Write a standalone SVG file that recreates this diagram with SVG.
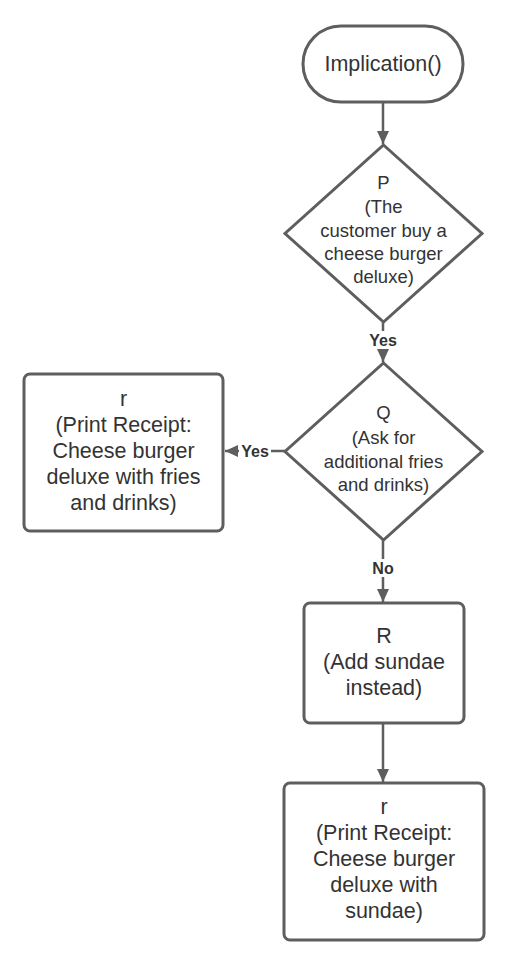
<svg xmlns="http://www.w3.org/2000/svg" width="528" height="968" viewBox="0 0 528 968">
<defs>
<marker id="ah" markerUnits="userSpaceOnUse" markerWidth="14" markerHeight="12" refX="13" refY="6" orient="auto">
<path d="M0,0 L13,6 L0,12 Z" fill="#5e5e5e"/>
</marker>
<style>
.shape{fill:#fff;stroke:#5e5e5e;stroke-width:3}
.edge{fill:none;stroke:#5e5e5e;stroke-width:2.5}
.t{font-family:"Liberation Sans",Arial,sans-serif;fill:#333;text-anchor:middle}
.big{font-size:21.5px}
.mid{font-size:18.5px}
.lbl{font-family:"Liberation Sans",Arial,sans-serif;font-size:16px;font-weight:bold;fill:#333;text-anchor:middle}
</style>
</defs>
<rect width="528" height="968" fill="#fff"/>
<g id="connectors">
<line class="edge" x1="383" y1="103" x2="383" y2="144" marker-end="url(#ah)"/>
<line class="edge" x1="383" y1="322" x2="383" y2="362" marker-end="url(#ah)"/>
<line class="edge" x1="285" y1="451" x2="225" y2="451" marker-end="url(#ah)"/>
<line class="edge" x1="383" y1="540" x2="383" y2="602" marker-end="url(#ah)"/>
<line class="edge" x1="383" y1="723" x2="383" y2="782" marker-end="url(#ah)"/>
<rect x="367" y="331" width="32" height="18" fill="#fff"/>
<text class="lbl" x="383" y="346">Yes</text>
<rect x="239" y="443" width="32" height="17" fill="#fff"/>
<text class="lbl" x="255" y="457">Yes</text>
<rect x="370" y="559" width="26" height="18" fill="#fff"/>
<text class="lbl" x="383" y="574">No</text>
</g>
<g id="start">
<rect class="shape" x="303" y="26" width="160" height="76" rx="38" ry="38"/>
<text class="t big" x="383" y="71">Implication()</text>
</g>
<g id="P">
<polygon class="shape" points="383.5,145 482,233.5 383.5,322 285,233.5"/>
<text class="t mid" x="383.5" y="189">P</text>
<text class="t mid" x="383.5" y="213">(The</text>
<text class="t mid" x="383.5" y="237">customer buy a</text>
<text class="t mid" x="383.5" y="260">cheese burger</text>
<text class="t mid" x="383.5" y="283">deluxe)</text>
</g>
<g id="Q">
<polygon class="shape" points="383.5,363 482,451.5 383.5,540 285,451.5"/>
<text class="t mid" x="383.5" y="418.5">Q</text>
<text class="t mid" x="383.5" y="444">(Ask for</text>
<text class="t mid" x="383.5" y="468">additional fries</text>
<text class="t mid" x="383.5" y="491">and drinks)</text>
</g>
<g id="r1">
<rect class="shape" x="24" y="374" width="199" height="157" rx="6" ry="6"/>
<text class="t big" x="123.5" y="406">r</text>
<text class="t big" x="123.5" y="432">(Print Receipt:</text>
<text class="t big" x="123.5" y="458">Cheese burger</text>
<text class="t big" x="123.5" y="484">deluxe with fries</text>
<text class="t big" x="123.5" y="510">and drinks)</text>
</g>
<g id="R">
<rect class="shape" x="304" y="603" width="160" height="120" rx="6" ry="6"/>
<text class="t big" x="384" y="643">R</text>
<text class="t big" x="384" y="669">(Add sundae</text>
<text class="t big" x="384" y="695">instead)</text>
</g>
<g id="r2">
<rect class="shape" x="284" y="783" width="200" height="157" rx="6" ry="6"/>
<text class="t big" x="384" y="814">r</text>
<text class="t big" x="384" y="840">(Print Receipt:</text>
<text class="t big" x="384" y="866">Cheese burger</text>
<text class="t big" x="384" y="892">deluxe with</text>
<text class="t big" x="384" y="918">sundae)</text>
</g>
</svg>
